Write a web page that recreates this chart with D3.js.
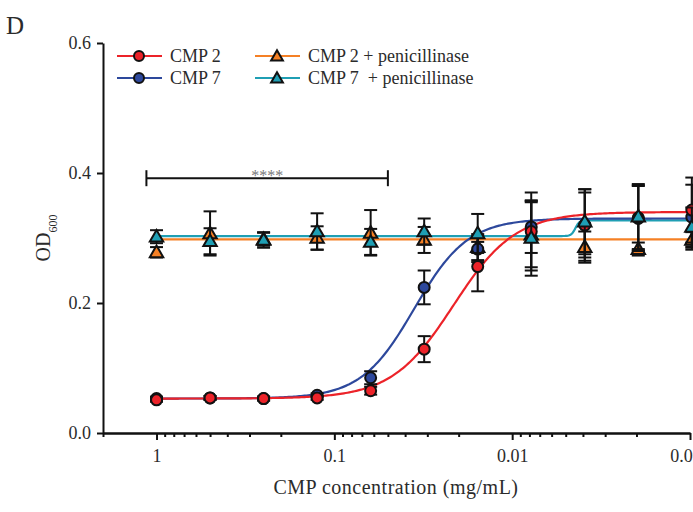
<!DOCTYPE html>
<html>
<head>
<meta charset="utf-8">
<script src="https://cdn.jsdelivr.net/npm/d3@7"></script>
<style>
  body { margin: 0; background: #fff; }
  text { font-family: "Liberation Serif", "DejaVu Serif", serif; fill: #2b2b2b; }
</style>
</head>
<body>
<svg id="viz" width="693" height="512"></svg>
<script>
// concentrations (2-fold dilution, mg/mL)
var conc = [1, 0.5, 0.25, 0.125, 0.0625, 0.03125, 0.015625, 0.0078125, 0.00390625, 0.001953125, 0.0009765625];

// OD600 means and SD
var cmp2      = [0.051, 0.054, 0.053, 0.054, 0.065, 0.129, 0.256, 0.310, 0.320, 0.331, 0.343];
var cmp2Err   = [0.003, 0.003, 0.003, 0.003, 0.006, 0.020, 0.038, 0.060, 0.055, 0.050, 0.050];
var cmp7      = [0.053, 0.054, 0.053, 0.058, 0.085, 0.224, 0.283, 0.317, 0.320, 0.330, 0.332];
var cmp7Err   = [0.003, 0.003, 0.003, 0.003, 0.010, 0.026, 0.020, 0.040, 0.050, 0.050, 0.050];
var cmp2Pen   = [0.278, 0.307, 0.298, 0.300, 0.308, 0.297, 0.286, 0.305, 0.286, 0.283, 0.297];
var cmp2PenErr= [0.008, 0.034, 0.010, 0.018, 0.035, 0.020, 0.020, 0.050, 0.024, 0.010, 0.012];
var cmp7Pen   = [0.302, 0.295, 0.297, 0.310, 0.294, 0.310, 0.307, 0.300, 0.325, 0.333, 0.317];
var cmp7PenErr= [0.010, 0.020, 0.012, 0.028, 0.020, 0.020, 0.030, 0.058, 0.050, 0.050, 0.030];

// sigmoidal fit parameters [bottom, top, logEC50, hill]
var fitCmp2    = [0.053, 0.340, -1.67, 2.5];
var fitCmp7    = [0.053, 0.330, -1.45, 2.9];
var fitCmp2Pen = [0.298, 0.298, -2.0, 1.0];
var fitCmp7Pen = [0.303, 0.327, -2.355, 40];

var xTicks = [1, 0.1, 0.01, 0.001];
var xTickLabels = ["1", "0.1", "0.01", "0.001"];
var yTicks = [0, 0.2, 0.4, 0.6];

var width = 693, height = 512;
var margin = {left: 103, top: 43, bottom: 79};

var svg = d3.select("#viz");
var x = d3.scaleLog().domain([2, 0.001]).range([margin.left, 690]);
var y = d3.scaleLinear().domain([0, 0.6]).range([height - margin.bottom, margin.top]);

var series = [
  {name: "CMP 2", vals: cmp2, err: cmp2Err, fit: fitCmp2, color: "#ec2329", shape: "circle"},
  {name: "CMP 7", vals: cmp7, err: cmp7Err, fit: fitCmp7, color: "#2d489c", shape: "circle"},
  {name: "CMP 2 + penicillinase", vals: cmp2Pen, err: cmp2PenErr, fit: fitCmp2Pen, color: "#f58025", shape: "tri"},
  {name: "CMP 7  + penicillinase", vals: cmp7Pen, err: cmp7PenErr, fit: fitCmp7Pen, color: "#1f9fb4", shape: "tri"}
];

function model(p, c) {
  return p[0] + (p[1] - p[0]) / (1 + Math.pow(10, p[3] * (Math.log10(c) - p[2])));
}

// axes
svg.append("g")
  .attr("transform", "translate(" + margin.left + ",0)")
  .call(d3.axisLeft(y).tickValues(yTicks).tickFormat(d3.format(".1f")).tickSize(6).tickSizeOuter(0).tickPadding(6));

var minor = [];
xTicks.forEach(function(d) { for (var k = 2; k <= 9; k++) { if (d * k <= 2.001) minor.push(d * k); } });

svg.append("g")
  .attr("transform", "translate(0," + y(0) + ")")
  .call(d3.axisBottom(x).tickValues(minor).tickFormat("").tickSize(4).tickSizeOuter(0));
svg.append("g")
  .attr("transform", "translate(0," + y(0) + ")")
  .call(d3.axisBottom(x).tickValues(xTicks).tickFormat(function(d, i) { return xTickLabels[i]; }).tickSize(7).tickSizeOuter(0).tickPadding(9));

svg.selectAll(".domain").attr("stroke", "#111").attr("stroke-width", 2);
svg.selectAll(".tick line").attr("stroke", "#111").attr("stroke-width", 2);
svg.selectAll(".tick text").style("font-size", "18px").attr("fill", "#2b2b2b");

svg.append("text")
  .attr("x", 396).attr("y", 494)
  .attr("text-anchor", "middle")
  .style("font-size", "20px").style("letter-spacing", "0.5px")
  .text("CMP concentration (mg/mL)");

var yl = svg.append("text")
  .attr("transform", "translate(50,238) rotate(-90)")
  .attr("text-anchor", "middle")
  .style("font-size", "20px");
yl.append("tspan").text("OD");
yl.append("tspan").attr("baseline-shift", "sub").style("font-size", "12px").text("600");

svg.append("text").attr("x", 6).attr("y", 34).style("font-size", "25px").text("D");

// fitted curves
var curveX = d3.range(0, 301).map(function(i) { return conc[0] * Math.pow(conc[conc.length - 1] / conc[0], i / 300); });
var line = d3.line().x(function(d) { return x(d[0]); }).y(function(d) { return y(d[1]); });

// draw order: penicillinase lines, then CMP lines
[2, 3, 1, 0].forEach(function(si) {
  var s = series[si];
  svg.append("path")
    .datum(curveX.map(function(c) { return [c, model(s.fit, c)]; }))
    .attr("d", line)
    .attr("fill", "none")
    .attr("stroke", s.color)
    .attr("stroke-width", 2.2);
});

var tri = d3.symbol().type(d3.symbolTriangle).size(78);

function drawSeries(s) {
  var g = svg.append("g");
  var pts = conc.map(function(c, i) { return {c: c, v: s.vals[i], e: s.err[i]}; });
  var eb = g.selectAll(".eb").data(pts).enter().append("g").attr("stroke", "#111").attr("stroke-width", 2);
  eb.append("line")
    .attr("x1", function(d) { return x(d.c); }).attr("x2", function(d) { return x(d.c); })
    .attr("y1", function(d) { return y(d.v - d.e); }).attr("y2", function(d) { return y(d.v + d.e); });
  [-1, 1].forEach(function(sg) {
    eb.append("line")
      .attr("x1", function(d) { return x(d.c) - 6.5; }).attr("x2", function(d) { return x(d.c) + 6.5; })
      .attr("y1", function(d) { return y(d.v + sg * d.e); }).attr("y2", function(d) { return y(d.v + sg * d.e); });
  });
  if (s.shape === "circle") {
    g.selectAll("circle").data(pts).enter().append("circle")
      .attr("cx", function(d) { return x(d.c); })
      .attr("cy", function(d) { return y(d.v); })
      .attr("r", 5.5)
      .attr("fill", s.color).attr("stroke", "#111").attr("stroke-width", 2);
  } else {
    g.selectAll("path").data(pts).enter().append("path")
      .attr("d", tri)
      .attr("transform", function(d) { return "translate(" + x(d.c) + "," + (y(d.v) + 1) + ")"; })
      .attr("fill", s.color).attr("stroke", "#111").attr("stroke-width", 2);
  }
}
[series[2], series[1], series[0], series[3]].forEach(drawSeries);

// significance bracket
var sigX = [1.14, 0.05], sigY = 0.392;
var sg = svg.append("g").attr("stroke", "#111").attr("stroke-width", 2);
sg.append("line").attr("x1", x(sigX[0])).attr("x2", x(sigX[1])).attr("y1", y(sigY)).attr("y2", y(sigY));
sigX.forEach(function(v) {
  sg.append("line").attr("x1", x(v)).attr("x2", x(v)).attr("y1", y(sigY) - 8).attr("y2", y(sigY) + 8);
});
svg.append("text")
  .attr("x", (x(sigX[0]) + x(sigX[1])) / 2).attr("y", y(sigY) + 3)
  .attr("text-anchor", "middle")
  .style("font-size", "16px").style("fill", "#777")
  .text("****");

// legend
var legPos = [[117, 56], [117, 78], [255, 56], [255, 78]];
series.forEach(function(s, i) {
  var lx = legPos[i][0], ly = legPos[i][1];
  var g = svg.append("g");
  g.append("line").attr("x1", lx).attr("x2", lx + 45).attr("y1", ly).attr("y2", ly)
    .attr("stroke", s.color).attr("stroke-width", 2.2);
  if (s.shape === "circle") {
    g.append("circle").attr("cx", lx + 22).attr("cy", ly).attr("r", 5)
      .attr("fill", s.color).attr("stroke", "#111").attr("stroke-width", 2);
  } else {
    g.append("path").attr("d", d3.symbol().type(d3.symbolTriangle).size(60))
      .attr("transform", "translate(" + (lx + 22) + "," + (ly + 1) + ")")
      .attr("fill", s.color).attr("stroke", "#111").attr("stroke-width", 2);
  }
  g.append("text").attr("x", lx + 53).attr("y", ly + 6)
    .style("font-size", "18px").style("white-space", "pre")
    .text(s.name);
});
</script>
</body>
</html>
